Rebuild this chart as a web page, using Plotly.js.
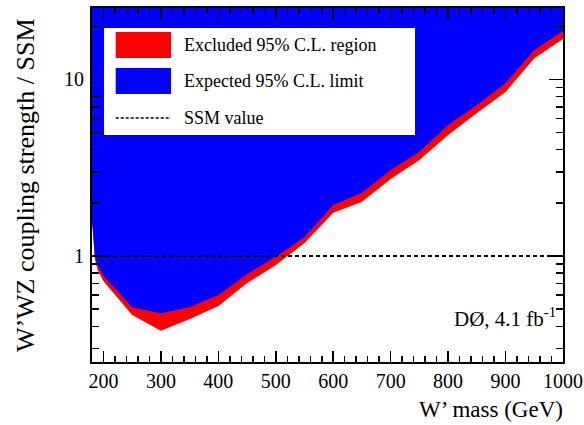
<!DOCTYPE html>
<html>
<head>
<meta charset="utf-8">
<script src="https://cdn.plot.ly/plotly-3.0.1.min.js"></script>
<style>html,body{margin:0;padding:0;background:#fff;}#chart{width:584px;height:425px;}</style>
</head>
<body>
<div id="chart"></div>
<script>
// W' mass points (GeV)
const masses = [180,185,190,200,250,300,350,400,450,500,550,600,650,700,750,800,850,900,950,1000];
// Expected 95% C.L. limit on coupling strength / SSM
const expected = [1.60,1.00,0.89,0.77,0.512,0.474,0.514,0.601,0.791,0.99,1.28,1.945,2.28,3.07,3.90,5.52,7.17,9.55,14.7,18.8];
// Observed 95% C.L. limit (lower edge of excluded region)
const observed = [1.60,0.96,0.83,0.72,0.463,0.377,0.44,0.521,0.703,0.889,1.185,1.76,2.03,2.73,3.50,4.85,6.46,8.50,13.2,16.96];
const ssmValue = 1;
const xTickVals = [200,300,400,500,600,700,800,900,1000];
const yTickVals = [1,10];
const yTickText = ['1','10'];
const yMinorVals = [0.3,0.4,0.5,0.6,0.7,0.8,0.9,2,3,4,5,6,7,8,9,20];
const legendLabels = ['Excluded 95% C.L. region','Expected 95% C.L. limit','SSM value'];
const lumiLabel = 'DØ, 4.1 fb<sup>-1</sup>';
const xTitle = 'W’ mass (GeV)';
const yTitle = 'W’WZ coupling strength / SSM';

const fillTop = 1000; // well above the visible range; fill is clipped by the axes
function band(vals) {
  return {
    x: masses.concat([masses[masses.length-1], masses[0]]),
    y: vals.concat([fillTop, fillTop])
  };
}
const red = band(observed), blue = band(expected);
const font = 'Liberation Serif, Times New Roman, serif';

const traces = [
  {x: red.x, y: red.y, type: 'scatter', mode: 'lines', fill: 'toself',
   fillcolor: '#ff0000', line: {width: 0, color: '#ff0000'}, hoverinfo: 'skip', showlegend: false},
  {x: blue.x, y: blue.y, type: 'scatter', mode: 'lines', fill: 'toself',
   fillcolor: '#0000ff', line: {width: 0, color: '#0000ff'}, hoverinfo: 'skip', showlegend: false}
];

const layout = {
  width: 584, height: 425,
  margin: {l: 92, r: 21, t: 8, b: 63, pad: 0},
  paper_bgcolor: '#fff', plot_bgcolor: '#fff',
  showlegend: false,
  font: {family: font, color: '#000', size: 20},
  xaxis: {
    range: [180, 1000], tickmode: 'array', tickvals: xTickVals,
    ticks: 'inside', ticklen: 11, tickwidth: 1.5, tickcolor: '#000',
    minor: {dtick: 20, tick0: 0, ticks: 'inside', ticklen: 6, tickwidth: 1.5, tickcolor: '#000'},
    showline: true, linewidth: 2, linecolor: '#000', mirror: 'allticks',
    showgrid: false, zeroline: false, tickfont: {size: 20, family: font},
    ticklabelstandoff: 0
  },
  yaxis: {
    type: 'log', range: [Math.log10(0.251), Math.log10(25.4)],
    tickmode: 'array', tickvals: yTickVals, ticktext: yTickText,
    ticks: 'inside', ticklen: 14, tickwidth: 1.5, tickcolor: '#000',
    minor: {tickmode: 'array', tickvals: yMinorVals, ticks: 'inside', ticklen: 7, tickwidth: 1.5, tickcolor: '#000'},
    showline: true, linewidth: 2, linecolor: '#000', mirror: 'allticks',
    showgrid: false, zeroline: false, tickfont: {size: 20, family: font},
    ticklabelstandoff: 2
  },
  shapes: [
    // SSM reference line
    {type: 'line', xref: 'paper', yref: 'y', x0: 0, x1: 1, y0: ssmValue, y1: ssmValue,
     line: {color: '#000', width: 2, dash: '4px,3px'}},
    // legend box
    {type: 'rect', xref: 'paper', yref: 'paper', x0: 0.0255, x1: 0.6858, y0: 0.6412, y1: 0.9435,
     fillcolor: '#fff', line: {width: 0}},
    {type: 'rect', xref: 'paper', yref: 'paper', x0: 0.0503, x1: 0.1677, y0: 0.8588, y1: 0.9322,
     fillcolor: '#ff0000', line: {width: 0}},
    {type: 'rect', xref: 'paper', yref: 'paper', x0: 0.0503, x1: 0.1677, y0: 0.7571, y1: 0.8305,
     fillcolor: '#0000ff', line: {width: 0}},
    {type: 'line', xref: 'paper', yref: 'paper', x0: 0.0503, x1: 0.1677, y0: 0.6893, y1: 0.6893,
     line: {color: '#000', width: 1.5, dash: '3px,2px'}}
  ],
  annotations: [
    {xref: 'paper', yref: 'paper', x: 0.1911, y: 0.8955, xanchor: 'left', yanchor: 'middle',
     text: legendLabels[0], showarrow: false, font: {size: 18, family: font}},
    {xref: 'paper', yref: 'paper', x: 0.1911, y: 0.7938, xanchor: 'left', yanchor: 'middle',
     text: legendLabels[1], showarrow: false, font: {size: 18, family: font}},
    {xref: 'paper', yref: 'paper', x: 0.1911, y: 0.6893, xanchor: 'left', yanchor: 'middle',
     text: legendLabels[2], showarrow: false, font: {size: 18, family: font}},
    {xref: 'paper', yref: 'paper', x: 0.989, y: 0.125, xanchor: 'right', yanchor: 'middle',
     text: lumiLabel, showarrow: false, font: {size: 21, family: font}},
    {xref: 'paper', yref: 'paper', x: 1.005, y: -0.133, xanchor: 'right', yanchor: 'middle',
     text: xTitle, showarrow: false, font: {size: 23, family: font}},
    {xref: 'paper', yref: 'paper', x: -0.142, y: 0.5, xanchor: 'center', yanchor: 'middle',
     text: yTitle, textangle: -90, showarrow: false, font: {size: 26, family: font}}
  ]
};

Plotly.newPlot('chart', traces, layout, {staticPlot: true, displayModeBar: false});
</script>
</body>
</html>
